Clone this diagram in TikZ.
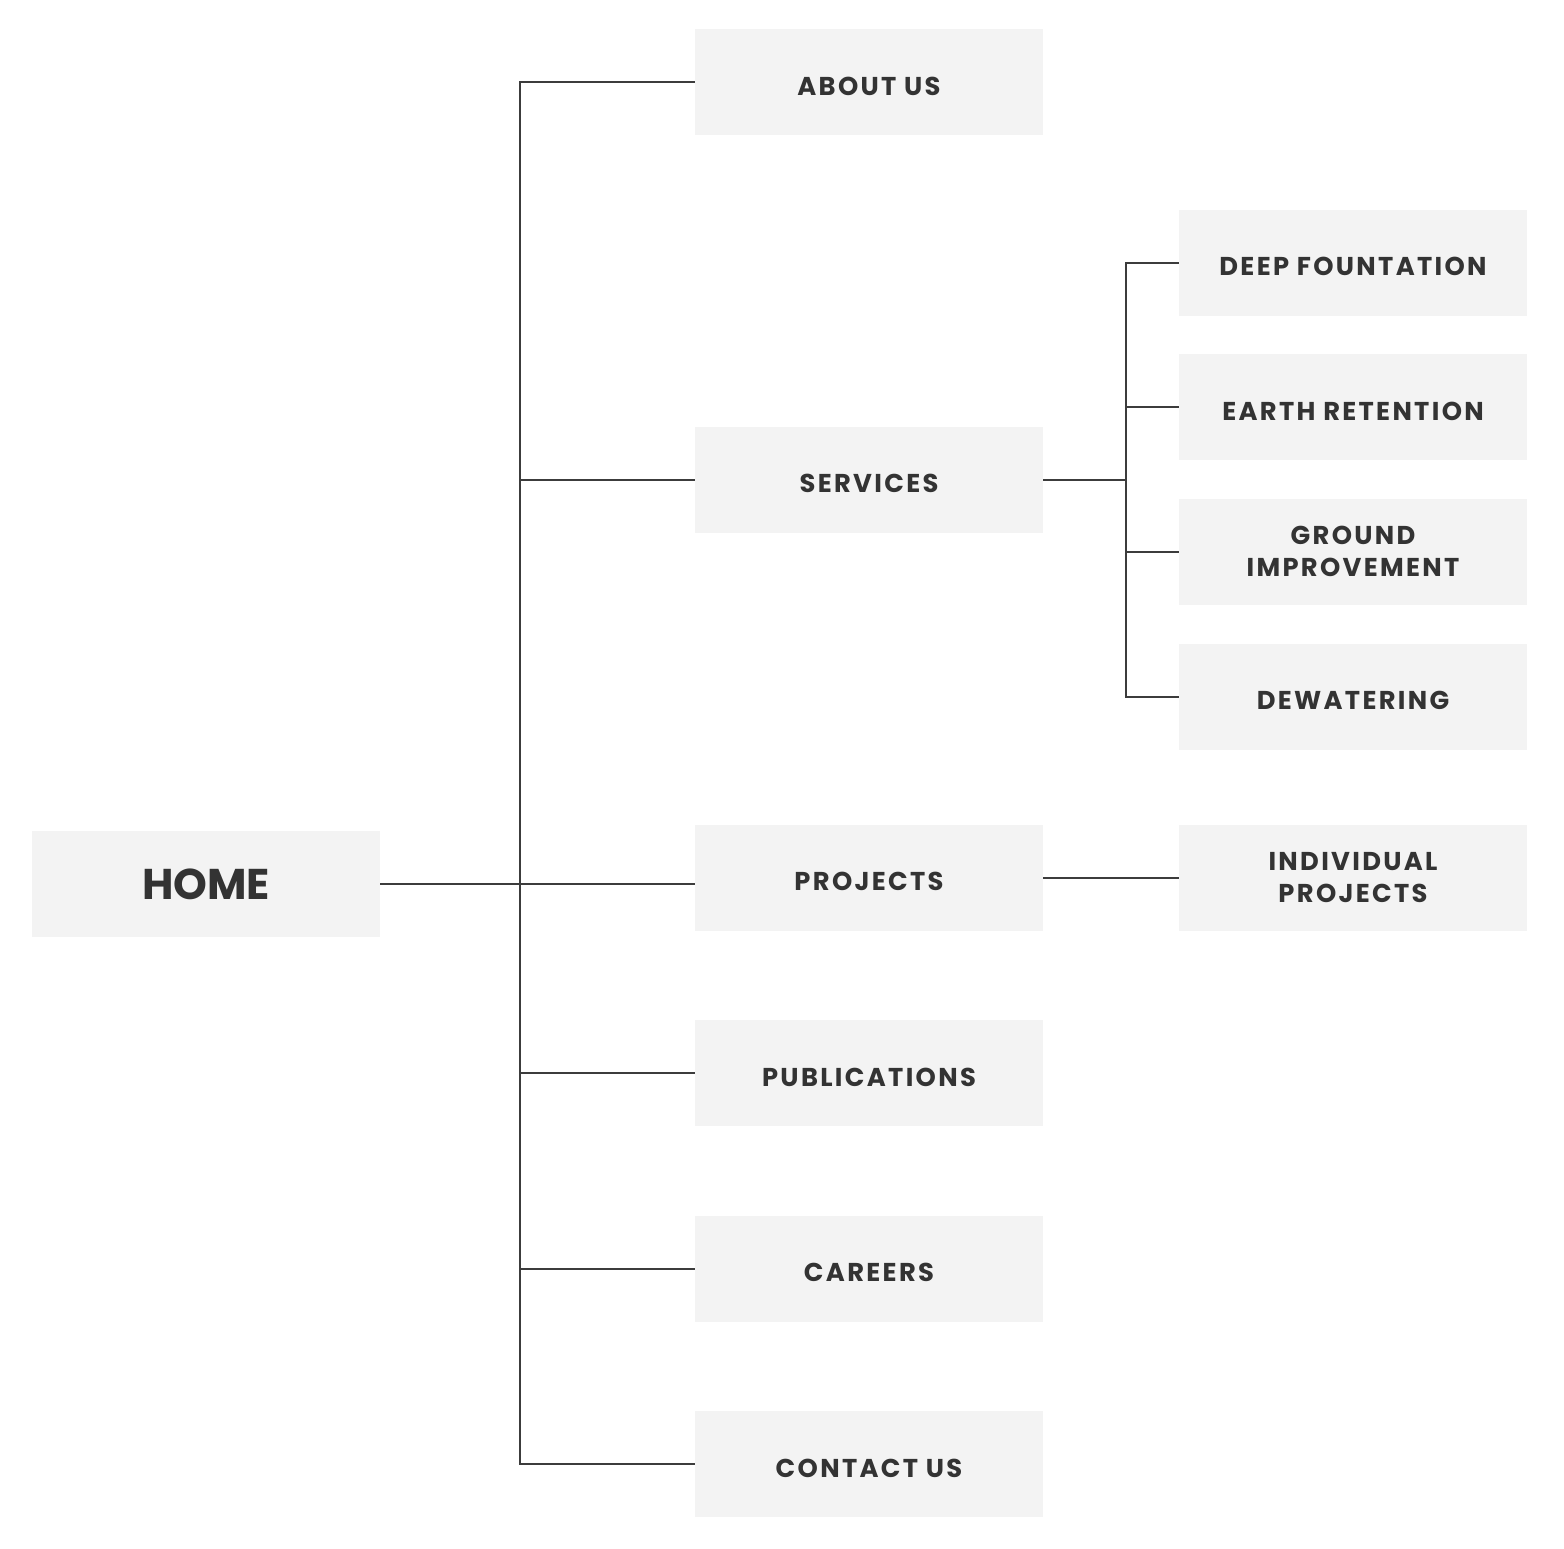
\documentclass[tikz,border=0pt]{standalone}
\usepackage{fontspec}
\setmainfont{Poppins}
\newfontfamily\spacedfont{Poppins}[LetterSpace=9]
\definecolor{boxfill}{HTML}{F3F3F3}
\definecolor{txt}{HTML}{333333}
\definecolor{ln}{HTML}{3C3C3C}
\tikzset{
  box/.style={rectangle, fill=boxfill, draw=none, minimum width=174pt, minimum height=53pt, inner sep=0pt},
  lbl/.style={text=txt, font=\spacedfont\fontsize{12.9pt}{16pt}\selectfont\bfseries, align=center, inner sep=0pt},
  biglbl/.style={text=txt, font=\fontsize{21.5pt}{26pt}\selectfont\bfseries, inner sep=0pt},
  conn/.style={draw=ln, line width=1pt},
}
\begin{document}
\begin{tikzpicture}[x=0.5pt,y=-0.5pt]
\useasboundingbox (0,0) rectangle (1564,1548);
% boxes
\node[box] (home) at (206,884) {};
\node[box] (about) at (869,81.5) {};
\node[box] (services) at (869,479.5) {};
\node[box] (projects) at (869,877.5) {};
\node[box] (publications) at (869,1073) {};
\node[box] (careers) at (869,1268.5) {};
\node[box] (contact) at (869,1464) {};
\node[box] (deep) at (1353,262.5) {};
\node[box] (earth) at (1353,407) {};
\node[box] (ground) at (1353,551.5) {};
\node[box] (dewater) at (1353,696.5) {};
\node[box] (indiv) at (1353,877.5) {};
% labels
\node[biglbl] (homeT) at (home.center) {HOME};
\node[lbl] (aboutT) at ([yshift=-2.3pt]about.center) {ABOUT US};
\node[lbl] (servicesT) at ([yshift=-2pt]services.center) {SERVICES};
\node[lbl] (projectsT) at ([yshift=-2pt]projects.center) {PROJECTS};
\node[lbl] (publicationsT) at ([yshift=-2pt]publications.center) {PUBLICATIONS};
\node[lbl] (careersT) at ([yshift=-2pt]careers.center) {CAREERS};
\node[lbl] (contactT) at ([yshift=-2pt]contact.center) {CONTACT US};
\node[lbl] (deepT) at ([yshift=-2pt]deep.center) {DEEP FOUNTATION};
\node[lbl] (earthT) at ([yshift=-2pt]earth.center) {EARTH RETENTION};
\node[lbl] (groundT) at (ground.center) {GROUND\\IMPROVEMENT};
\node[lbl] (dewaterT) at ([yshift=-2pt]dewater.center) {DEWATERING};
\node[lbl] (indivT) at (indiv.center) {INDIVIDUAL\\PROJECTS};
% trunk coordinates
\coordinate (trunk) at (520,884);
\coordinate (subtrunk) at (1126,479.5);
% main tree
\draw[conn] (about.west) -| (trunk) |- (contact.west);
\draw[conn] (home.east) -- (home.east -| projects.west);
\draw[conn] (services.west) -- (services.west -| trunk);
\draw[conn] (publications.west) -- (publications.west -| trunk);
\draw[conn] (careers.west) -- (careers.west -| trunk);
% services subtree
\draw[conn] (deep.west) -| (subtrunk) |- (dewater.west);
\draw[conn] (services.east) -- (subtrunk);
\draw[conn] (earth.west) -- (earth.west -| subtrunk);
\draw[conn] (ground.west) -- (ground.west -| subtrunk);
% projects subtree
\draw[conn] (projects.east) -- (indiv.west);
\end{tikzpicture}
\end{document}
